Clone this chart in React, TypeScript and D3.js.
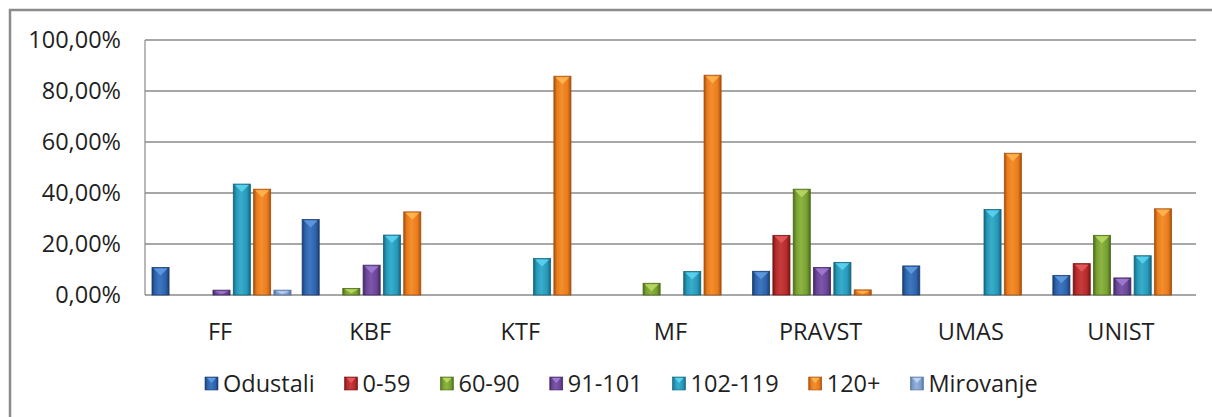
import React, { useEffect, useRef } from 'react';
import * as d3 from 'd3';

const categories = ['FF', 'KBF', 'KTF', 'MF', 'PRAVST', 'UMAS', 'UNIST'];
const seriesNames = ['Odustali', '0-59', '60-90', '91-101', '102-119', '120+', 'Mirovanje'];
const odustali = [10.8, 29.6, 0, 0, 9.3, 11.4, 7.7];
const s0to59 = [0, 0, 0, 0, 23.4, 0, 12.3];
const s60to90 = [0, 2.6, 0, 4.6, 41.5, 0, 23.4];
const s91to101 = [1.9, 11.7, 0, 0, 10.8, 0, 6.7];
const s102to119 = [43.5, 23.5, 14.3, 9.2, 12.8, 33.5, 15.4];
const s120plus = [41.5, 32.6, 85.8, 86.2, 2.0, 55.6, 33.8];
const mirovanje = [1.9, 0, 0, 0, 0, 0, 0];
const yTicks = [0, 20, 40, 60, 80, 100];

const seriesValues = [odustali, s0to59, s60to90, s91to101, s102to119, s120plus, mirovanje];

const palette = [
  { base: '#2d63ad', dark: '#1c3d6e', light: '#5f9be0' },
  { base: '#b62b2b', dark: '#761515', light: '#e45a5a' },
  { base: '#77a031', dark: '#4b6a1a', light: '#b8d964' },
  { base: '#6a4596', dark: '#422963', light: '#a17bd0' },
  { base: '#2799b8', dark: '#15657e', light: '#5ad3f0' },
  { base: '#eb7b1c', dark: '#a4500f', light: '#ffb550' },
  { base: '#7d9fcc', dark: '#55729a', light: '#bcd3f2' },
];

const FONT = '"Open Sans", sans-serif';
const FS = 23.5;

export default function App() {
  const ref = useRef<SVGSVGElement>(null);

  useEffect(() => {
    const svg = d3.select(ref.current);
    svg.selectAll('*').remove();

    const left = 145, right = 1196, top = 40, bottom = 295;

    const defs = svg.append('defs');
    palette.forEach((p, i) => {
      const g = defs.append('linearGradient').attr('id', 'g' + i).attr('x1', '0').attr('x2', '1').attr('y1', '0').attr('y2', '0');
      g.append('stop').attr('offset', '0%').attr('stop-color', p.dark);
      g.append('stop').attr('offset', '18%').attr('stop-color', p.base);
      g.append('stop').attr('offset', '45%').attr('stop-color', d3.interpolateRgb(p.base, p.light)(0.35));
      g.append('stop').attr('offset', '80%').attr('stop-color', p.base);
      g.append('stop').attr('offset', '100%').attr('stop-color', p.dark);
    });

    // outer border
    svg.append('rect').attr('x', 10).attr('y', 10).attr('width', 1260).attr('height', 440)
      .attr('fill', 'white').attr('stroke', '#8c8c8c').attr('stroke-width', 2.5);

    const x0 = d3.scaleBand<string>().domain(categories).range([left, right]).paddingInner(0).paddingOuter(0);
    const x1 = d3.scaleBand<string>().domain(seriesNames).range([7, 146]).paddingInner(0.16).paddingOuter(0);
    const y = d3.scaleLinear().domain([0, 100]).range([bottom, top]);

    // gridlines
    svg.append('g').selectAll('line').data(yTicks).join('line')
      .attr('x1', left).attr('x2', right)
      .attr('y1', d => y(d)).attr('y2', d => y(d))
      .attr('stroke', '#8a8a8a').attr('stroke-width', 1.5);
    svg.append('line').attr('x1', left).attr('x2', left).attr('y1', top).attr('y2', bottom)
      .attr('stroke', '#8a8a8a').attr('stroke-width', 1.2);

    // y labels
    svg.append('g').selectAll('text').data(yTicks).join('text')
      .attr('x', 121).attr('y', d => y(d)).attr('dy', '0.35em')
      .attr('text-anchor', 'end').attr('font-family', FONT).attr('font-size', FS).attr('fill', '#1f1f1f')
      .text(d => d3.format('.2f')(d).replace('.', ',') + '%');

    // category labels
    svg.append('g').selectAll('text').data(categories).join('text')
      .attr('x', d => (x0(d) as number) + x0.bandwidth() / 2).attr('y', 340)
      .attr('text-anchor', 'middle').attr('font-family', FONT).attr('font-size', FS).attr('fill', '#1f1f1f')
      .text(d => d);

    // bars
    const bw = x1.bandwidth();
    seriesNames.forEach((s, si) => {
      const p = palette[si];
      const g = svg.append('g');
      const data = categories.map((c, ci) => ({ c, v: seriesValues[si][ci] })).filter(d => d.v > 0);
      const gx = (d: { c: string }) => (x0(d.c) as number) + (x1(s) as number);
      g.selectAll('rect').data(data).join('rect')
        .attr('x', d => gx(d)).attr('y', d => y(d.v))
        .attr('width', bw).attr('height', d => bottom - y(d.v))
        .attr('fill', `url(#g${si})`).attr('stroke', p.dark).attr('stroke-width', 0.8);
      g.selectAll('path').data(data).join('path')
        .attr('d', d => {
          const xx = gx(d), yy = y(d.v);
          const h = Math.min(7, (bottom - yy) * 0.6);
          return `M${xx + 1.5},${yy + 1}L${xx + bw - 1.5},${yy + 1}L${xx + bw / 2},${yy + 1 + h}Z`;
        })
        .attr('fill', p.light).attr('opacity', 0.9);
    });

    // legend
    const lg = svg.append('g');
    let lx = 205;
    seriesNames.forEach((s, si) => {
      const p = palette[si];
      lg.append('rect').attr('x', lx).attr('y', 377).attr('width', 13).attr('height', 13)
        .attr('fill', `url(#g${si})`).attr('stroke', p.dark).attr('stroke-width', 0.6);
      lg.append('path').attr('d', `M${lx + 2},${378}L${lx + 11},${378}L${lx + 6.5},${383}Z`).attr('fill', p.light);
      const t = lg.append('text').attr('x', lx + 18).attr('y', 392)
        .attr('font-family', FONT).attr('font-size', FS).attr('fill', '#1f1f1f').text(s);
      const w = (t.node() as SVGTextElement).getComputedTextLength();
      lx += 18 + w + 30;
    });
  }, []);

  return (
    <svg ref={ref} width={1212} height={417} style={{ position: 'absolute', left: 0, top: 0, background: 'white' }} />
  );
}
